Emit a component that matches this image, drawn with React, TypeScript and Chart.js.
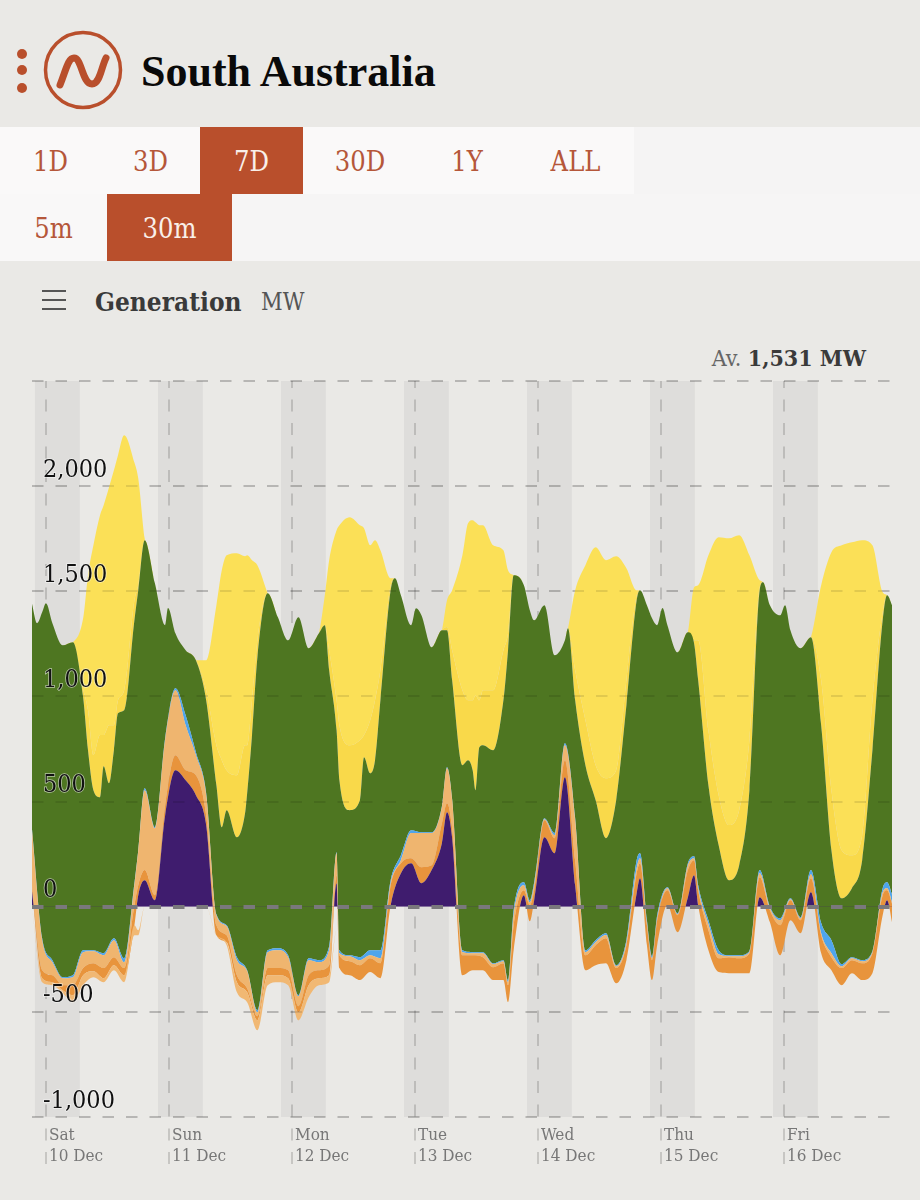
import React, { FC, useEffect, useRef } from "react";
import { Chart, registerables } from "chart.js";

Chart.register(...registerables);

// hours since Sat 10 Dec 00:00, for the sources under wind
const hours = [
  -2.75, -0.75, 1.25, 3.25, 5.25, 7.25, 9.25, 11.25, 13.25, 15.25, 17.25, 18, 19.25, 21.25, 23.25, 25.25, 27.25, 29.25, 31.25, 33.25,
  35.25, 37.25, 39.25, 41.25, 43.25, 45.25, 47.25, 49.25, 51.25, 53.25, 55.25, 56.7, 57.25, 59.25, 61.25, 63.25, 65.25, 67.25, 69.25, 71.25,
  73.25, 75.25, 77.25, 78.25, 79.25, 81.25, 83.25, 85.25, 87.25, 89.25, 90.15, 91.25, 93.25, 94.4, 95.25, 97.25, 99.25, 101.25, 103.25, 105.25,
  107.25, 109.25, 111.25, 113.25, 115.25, 115.9, 117.25, 118.25, 119.25, 121.25, 123.25, 125.25, 126.45, 127.25, 129.25, 131.25, 133.25, 135.25, 137.25, 139.25,
  141.25, 143.25, 145.25, 147.25, 149.25, 151.25, 153.25, 155.25, 157.25, 159.25, 161.25, 163.25, 164.1, 165.25,
];

// every list below is the running total of the stack (MW) at the top of that source
const floorMw = [
  0, -359, -373, -411, -454, -373, -335, -359, -302, -359, -136, -136, 0, 0, 0, -26, 0, -7, 0, -136,
  -183, -407, -454, -587, -373, -359, -373, -540, -430, -373, -359, -112, -292, -326, -349, -311, -340, 0, -17, 0,
  0, 0, 0, 0, 0, -326, -302, -302, -349, -349, -454, -207, 0, -69, -7, -17, 0, 0, 0, -302,
  -278, -269, -364, -254, 0, 0, -183, -349, -183, 0, -121, 0, 0, -17, -207, -311, -316, -316, -316, 0,
  -74, -231, -64, -126, 0, -221, -302, -373, -316, -349, -316, -40, 0, -97,
];
const paleLowTop = [
  0, -340, -359, -397, -421, -326, -307, -340, -278, -326, -88, -112, 0, 0, 0, -26, 0, -7, 0, -136,
  -169, -359, -407, -540, -326, -326, -340, -502, -373, -340, -326, -112, -292, -326, -349, -311, -340, 0, -17, 0,
  0, 0, 0, 0, 0, -326, -302, -302, -349, -349, -454, -207, 0, -69, -7, -17, 0, 0, 0, -302,
  -278, -269, -364, -254, 0, 0, -183, -349, -183, 0, -121, 0, 0, -17, -207, -311, -316, -316, -316, 0,
  -74, -231, -64, -126, 0, -221, -302, -373, -316, -349, -316, -40, 0, -97,
];
const purpleTop = [
  78, -340, -359, -397, -421, -326, -307, -340, -278, -326, -88, 55, 126, 31, 435, 649, 601, 530, 388, -136,
  -169, -359, -407, -540, -326, -326, -340, -502, -373, -340, -326, 112, -292, -326, -349, -311, -340, 7, 159, 207,
  112, 174, 302, 449, 326, -326, -302, -302, -349, -349, -454, -207, 55, -69, 31, 330, 254, 616, 102, -302,
  -278, -269, -364, -254, 64, 135, -183, -349, -183, 7, -121, 45, 150, 7, -207, -311, -316, -316, -316, 45,
  -74, -231, -64, -126, 69, -221, -302, -373, -316, -349, -316, -40, 31, -97,
];
const orangeTop = [
  102, -302, -326, -373, -373, -292, -269, -292, -240, -292, 7, 102, 174, 55, 483, 720, 649, 625, 435, -88,
  -136, -326, -388, -521, -292, -292, -302, -473, -326, -302, -278, 150, -231, -259, -278, -245, -269, 102, 207, 231,
  188, 197, 397, 492, 373, -231, -231, -240, -288, -269, -373, -88, 78, 7, 78, 411, 326, 697, 221, -231,
  -183, -150, -292, -183, 159, 207, -88, -254, -64, 78, -40, 174, 221, 78, -112, -245, -240, -245, -221, 140,
  -17, -88, 31, -64, 135, -136, -240, -292, -254, -269, -221, 55, 78, 0,
];
const paleTop = [
  364, -159, -264, -340, -335, -216, -212, -231, -159, -264, 102, 264, 554, 373, 792, 1029, 863, 720, 530, -40,
  -93, -254, -307, -502, -216, -207, -240, -426, -254, -264, -207, 254, -221, -235, -254, -231, -245, 112, 221, 350,
  350, 350, 473, 659, 506, -216, -221, -221, -273, -259, -359, -40, 102, 21, 102, 416, 340, 768, 411, -216,
  -169, -135, -283, -174, 183, 231, -78, -245, -55, 88, -36, 197, 231, 88, -83, -226, -235, -235, -216, 159,
  -7, -64, 36, -55, 154, -126, -221, -283, -245, -259, -216, 69, 88, 7,
];
const blueTop = [
  374, -150, -254, -335, -326, -207, -207, -221, -150, -245, 112, 269, 563, 378, 801, 1039, 911, 735, 540, -36,
  -88, -240, -302, -492, -207, -197, -231, -421, -245, -254, -188, 259, -207, -231, -240, -207, -207, 126, 245, 364,
  354, 354, 478, 663, 511, -207, -216, -216, -269, -254, -349, -17, 116, 31, 116, 421, 350, 777, 421, -207,
  -159, -126, -278, -159, 221, 254, -64, -235, -40, 93, -31, 207, 240, 102, -64, -207, -231, -231, -212, 174,
  0, -55, 40, -50, 174, -78, -159, -273, -240, -254, -212, 88, 116, 45,
];

// wind and the two solar layers are read on a finer, uneven list of hours
const topHours = [
  -2.75, -1.75, -0.75, 0, 1.25, 3.25, 5.25, 7.25, 8.2, 9.25, 10.54, 11.25, 12.3, 13.25, 14.05, 15.25, 17.25, 18, 19.25, 21.25,
  23.25, 23.8, 25.25, 27.25, 29.25, 31.25, 33.25, 34.3, 35.25, 37.25, 38.84, 39.25, 40.2, 41.25, 43.25, 45.25, 47.25, 49.25, 51.25, 53.25,
  54.4, 55.25, 56.7, 57.25, 59.25, 61.25, 62.05, 63.25, 64.2, 65.25, 67.25, 68.1, 69.25, 71.25, 72.2, 73.25, 75.25, 77.25, 78.25, 79.25,
  81.25, 82.35, 83.25, 83.8, 84.55, 85.25, 87.25, 89.25, 90.15, 91.25, 93.25, 94.4, 95.25, 97.25, 99.25, 101.25, 101.85, 103.25, 105.25, 107.25,
  109.25, 111.25, 113.25, 115.25, 115.9, 117.25, 118.25, 119.25, 120.3, 121.25, 123.25, 125.25, 126.45, 127.25, 129.25, 131.25, 133.25, 135.25, 137.25, 139.25,
  139.9, 141.25, 143.25, 144.2, 145.25, 147.25, 149.25, 151.25, 153.25, 155.25, 157.25, 159.25, 161.25, 163.25, 164.1, 165.25,
];
const windTop = [
  1443, 1348, 1400, 1443, 1348, 1243, 1258, 996, 744, 554, 521, 668, 587, 744, 920, 934, 1362, 1505, 1743, 1538,
  1339, 1420, 1300, 1220, 1172, 982, 578, 378, 459, 330, 445, 540, 816, 1186, 1491, 1377, 1267, 1377, 1229, 1300,
  1339, 1125, 839, 601, 459, 506, 711, 635, 697, 982, 1505, 1562, 1481, 1339, 1419, 1386, 1234, 1315, 1315, 1077,
  673, 696, 649, 554, 758, 768, 744, 982, 1220, 1576, 1529, 1410, 1362, 1434, 1196, 1267, 1324, 982, 673, 506,
  326, 506, 958, 1457, 1505, 1434, 1372, 1339, 1420, 1339, 1210, 1305, 1253, 1077, 578, 292, 126, 197, 554, 1505,
  1543, 1434, 1386, 1434, 1315, 1229, 1281, 863, 269, 40, 88, 221, 744, 1362, 1481, 1424,
];
const utilitySolarTop = [
  1443, 1348, 1400, 1443, 1348, 1243, 1258, 1034, 934, 721, 816, 816, 863, 863, 982, 1029, 1457, 1530, 1743, 1538,
  1339, 1420, 1300, 1220, 1172, 1029, 768, 697, 649, 625, 768, 768, 982, 1267, 1491, 1377, 1267, 1377, 1229, 1300,
  1339, 1220, 982, 863, 768, 792, 816, 887, 982, 1125, 1529, 1562, 1481, 1339, 1419, 1386, 1234, 1315, 1330, 1220,
  1029, 982, 982, 1005, 982, 1029, 1029, 1220, 1300, 1576, 1529, 1410, 1362, 1434, 1196, 1267, 1324, 1125, 887, 673,
  611, 649, 1077, 1481, 1505, 1434, 1372, 1339, 1420, 1339, 1210, 1305, 1267, 1267, 839, 530, 388, 459, 792, 1519,
  1543, 1434, 1386, 1434, 1315, 1229, 1281, 1077, 554, 269, 245, 340, 982, 1400, 1481, 1424,
];
const rooftopSolarTop = [
  1443, 1348, 1400, 1443, 1348, 1243, 1258, 1372, 1576, 1719, 1862, 1909, 1995, 2075, 2147, 2242, 2113, 2038, 1752, 1538,
  1339, 1420, 1300, 1220, 1172, 1172, 1434, 1600, 1671, 1681, 1667, 1671, 1648, 1624, 1491, 1377, 1267, 1377, 1229, 1300,
  1481, 1648, 1790, 1814, 1852, 1814, 1800, 1719, 1743, 1695, 1562, 1562, 1481, 1339, 1419, 1386, 1234, 1315, 1458, 1505,
  1671, 1824, 1838, 1828, 1814, 1814, 1719, 1695, 1600, 1576, 1529, 1410, 1362, 1434, 1196, 1267, 1324, 1505, 1624, 1709,
  1648, 1667, 1610, 1505, 1505, 1434, 1372, 1339, 1420, 1339, 1210, 1305, 1519, 1529, 1671, 1757, 1752, 1767, 1671, 1552,
  1543, 1434, 1386, 1434, 1315, 1229, 1281, 1529, 1686, 1719, 1733, 1743, 1719, 1495, 1481, 1424,
];

const dayHours = [0, 24, 48, 72, 96, 120, 144];
const dayLabels = [
  ["Sat", "10 Dec"],
  ["Sun", "11 Dec"],
  ["Mon", "12 Dec"],
  ["Tue", "13 Dec"],
  ["Wed", "14 Dec"],
  ["Thu", "15 Dec"],
  ["Fri", "16 Dec"],
];
const nightStart = [-2.15, 21.85, 45.85, 69.85, 93.85, 117.85, 141.85];
const nightEnd = [6.6, 30.6, 54.6, 78.6, 102.6, 126.6, 150.6];
const rangeButtons = ["1D", "3D", "7D", "30D", "1Y", "ALL"];
const rangeWidths = [101, 99, 103, 114, 100, 117];
const intervalButtons = ["5m", "30m"];
const intervalWidths = [107, 125];

const serif = "'Liberation Serif', serif";
const slab = "'DejaVu Serif Condensed', 'DejaVu Serif', serif";
const rust = "#B94F2C";

const toPoints = (xs: number[], values: number[]) => values.map((y, i) => ({ x: xs[i], y }));

const band = (label: string, xs: number[], values: number[], color: string, target: any, below = color) => ({
  label,
  data: toPoints(xs, values),
  borderWidth: 0,
  pointRadius: 0,
  cubicInterpolationMode: "monotone",
  fill: { target, above: color, below },
});

const nightBands = {
  id: "nightBands",
  beforeDraw(chart: any) {
    const { ctx, chartArea, scales } = chart;
    ctx.save();
    ctx.fillStyle = "#DEDDDB";
    nightStart.forEach((start, i) => {
      const x0 = scales.x.getPixelForValue(start);
      const x1 = scales.x.getPixelForValue(nightEnd[i]);
      ctx.fillRect(x0, chartArea.top, x1 - x0, chartArea.bottom - chartArea.top);
    });
    ctx.restore();
  },
};

const GenerationChart: FC = () => {
  const canvasRef = useRef<HTMLCanvasElement | null>(null);

  useEffect(() => {
    if (!canvasRef.current) return;

    const chart = new Chart(canvasRef.current, {
      type: "line",
      data: {
        datasets: [
          { label: "floor", data: toPoints(hours, floorMw), borderWidth: 0, pointRadius: 0, cubicInterpolationMode: "monotone", fill: false },
          band("Pale low", hours, paleLowTop, "#F1B873", 0),
          band("Purple", hours, purpleTop, "#3F1C6E", { value: 0 }, "rgba(0,0,0,0)"),
          band("Orange", hours, orangeTop, "#E8943C", 2),
          band("Pale", hours, paleTop, "#EFB56F", 3),
          band("Blue", hours, blueTop, "#4EA5EC", 4),
          band("Wind", topHours, windTop, "#4E7621", 5),
          band("Solar (utility)", topHours, utilitySolarTop, "#F9D94A", 6),
          band("Solar (rooftop)", topHours, rooftopSolarTop, "#FBE057", 7),
        ],
      },
      options: {
        animation: false,
        responsive: false,
        layout: { padding: { left: 32, right: 28, top: 381, bottom: 0 } },
        plugins: { legend: { display: false }, tooltip: { enabled: false } },
        scales: {
          x: {
            type: "linear",
            min: -2.73,
            max: 165.07,
            afterBuildTicks(scale: any) {
              scale.ticks = dayHours.map((value) => ({ value }));
            },
            afterFit(scale: any) {
              scale.height = 83;
            },
            grid: {
              color: "rgba(0,0,0,0.15)",
              lineWidth: 2,
              tickLength: 48,
              tickColor: "rgba(0,0,0,0.15)",
              tickBorderDash: [12, 11.5],
              tickBorderDashOffset: 12,
            },
            border: { display: false, dash: [12, 11.5], dashOffset: 5 },
            ticks: {
              autoSkip: false,
              maxRotation: 0,
              align: "start",
              labelOffset: 3,
              padding: -39,
              color: "#777",
              font: { family: slab, size: 17, lineHeight: 1.18 },
              callback: (_value: any, index: number) => dayLabels[index],
            },
          },
          y: {
            min: -1000,
            max: 2500,
            afterFit(scale: any) {
              scale.width = 0;
            },
            grid: {
              drawTicks: false,
              color: (ctx: any) => (ctx.tick.value === 0 ? "rgba(0,0,0,0)" : "rgba(0,0,0,0.13)"),
              lineWidth: 2,
            },
            border: { display: false, dash: [11.5, 12] },
            ticks: {
              z: 2,
              stepSize: 500,
              mirror: true,
              padding: 11,
              labelOffset: -16,
              color: "#111",
              textStrokeColor: "rgba(255,255,255,0.6)",
              textStrokeWidth: 1.5,
              font: { family: slab, size: 25 },
              callback: (value: any) => (value === 2500 ? "" : Number(value).toLocaleString("en-US")),
            },
          },
          // same lines again above the areas, where they only show faintly
          yOver: {
            position: "left",
            min: -1000,
            max: 2500,
            afterFit(scale: any) {
              scale.width = 0;
            },
            grid: {
              z: 1,
              drawTicks: false,
              color: (ctx: any) => (ctx.tick.value === 0 ? "#7A787C" : "rgba(0,0,0,0.1)"),
              lineWidth: (ctx: any) => (ctx.tick.value === 0 ? 4 : 2),
            },
            border: { display: false, dash: [11.5, 12] },
            ticks: { display: false, stepSize: 500 },
          },
        },
      },
      plugins: [nightBands],
    } as any);

    return () => {
      chart.destroy();
    };
  }, []);

  return <canvas ref={canvasRef} width={920} height={1200} style={{ position: "absolute", left: 0, top: 0, display: "block" }} />;
};

const ButtonRow: FC<{ labels: string[]; widths: number[]; active: string; top: number; bg: string }> = ({ labels, widths, active, top, bg }) => (
  <div style={{ position: "absolute", left: 0, top, height: 67, display: "flex" }}>
    {labels.map((label, i) => (
      <div
        key={label}
        style={{
          width: widths[i],
          lineHeight: "69px",
          height: 67,
          textAlign: "center",
          fontFamily: slab,
          fontSize: 27,
          color: label === active ? "#F9EFE9" : "#B5573A",
          background: label === active ? rust : bg,
        }}
      >
        {label}
      </div>
    ))}
  </div>
);

const App: FC = () => {
  useEffect(() => {
    document.body.style.margin = "0";
    document.body.style.background = "#EAE9E6";
  }, []);

  return (
    <div style={{ position: "relative", width: 920, height: 1200, overflow: "hidden", background: "#EAE9E6" }}>
      <svg width={140} height={127} style={{ position: "absolute", left: 0, top: 0 }}>
        <circle cx={22} cy={54} r={5} fill={rust} />
        <circle cx={22} cy={70} r={5} fill={rust} />
        <circle cx={22} cy={88} r={5} fill={rust} />
        <circle cx={83} cy={70} r={37.5} fill="none" stroke={rust} strokeWidth={3.5} />
        <path d="M60 85 C66 70 68 58 74 58 C82 58 82 84 92 84 C100 84 101 68 106 58" fill="none" stroke={rust} strokeWidth={7} strokeLinecap="round" />
      </svg>
      <div style={{ position: "absolute", left: 141, top: 46, fontFamily: serif, fontWeight: 700, fontSize: 44, lineHeight: "52px", color: "#0A0A0A" }}>South Australia</div>

      <div style={{ position: "absolute", left: 0, top: 127, width: 920, height: 67, background: "#F5F4F4" }} />
      <div style={{ position: "absolute", left: 0, top: 194, width: 920, height: 67, background: "#F6F5F5" }} />
      <ButtonRow labels={rangeButtons} widths={rangeWidths} active="7D" top={127} bg="#FAF9F9" />
      <ButtonRow labels={intervalButtons} widths={intervalWidths} active="30m" top={194} bg="#F9F8F8" />

      <svg width={30} height={30} style={{ position: "absolute", left: 40, top: 286 }}>
        <path d="M2 5H26M2 14H26M2 23H26" stroke="#555" strokeWidth={2} />
      </svg>
      <div style={{ position: "absolute", left: 95, top: 284, fontFamily: slab, fontWeight: 700, fontSize: 26, lineHeight: "36px", color: "#3A3A3A" }}>Generation</div>
      <div style={{ position: "absolute", left: 261, top: 287, fontFamily: slab, fontSize: 23.5, lineHeight: "30px", color: "#555" }}>MW</div>
      <div style={{ position: "absolute", right: 54, top: 343, fontFamily: slab, fontSize: 23, lineHeight: "30px", color: "#666" }}>
        Av. <b style={{ color: "#3A3A3A" }}>1,531 MW</b>
      </div>

      <GenerationChart />
    </div>
  );
};

export default App;
